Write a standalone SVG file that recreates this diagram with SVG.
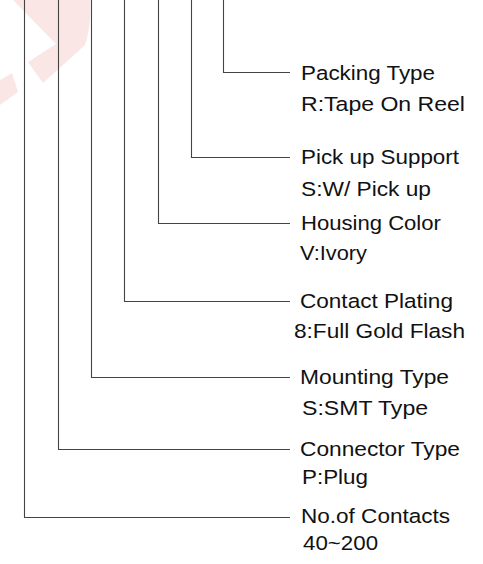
<svg xmlns="http://www.w3.org/2000/svg" width="483" height="564" viewBox="0 0 483 564">
<style>
.ln{fill:none;stroke:#444;stroke-width:1.1}
.t{font-family:"Liberation Sans",Arial,sans-serif;font-size:20.5px;fill:#111}
.wm{fill:#fbe6e6}
</style>
<rect width="483" height="564" fill="#fff"/>
<g id="watermark">
<path class="wm" d="M13,0 L90,0 C91,15 90,30 85,45 L43,83 L28,62 L56,44 Z"/>
<path class="wm" d="M0,80 L12,73 L18,92 L0,105 Z"/>
</g>
<g id="connectors">
<path class="ln" d="M223.5,0 V72.5 H290"/>
<path class="ln" d="M191.5,0 V157.5 H290"/>
<path class="ln" d="M158.5,0 V223.5 H290"/>
<path class="ln" d="M124.5,0 V301.5 H290"/>
<path class="ln" d="M91.5,0 V377.5 H290"/>
<path class="ln" d="M58.5,0 V449.5 H290"/>
<path class="ln" d="M24.5,0 V517.5 H290"/>
</g>
<g id="packing">
<text class="t" transform="translate(301,79.5) scale(1.06,1)" textLength="126.4" lengthAdjust="spacingAndGlyphs">Packing Type</text>
<text class="t" transform="translate(301,111) scale(1.06,1)" textLength="154.7" lengthAdjust="spacingAndGlyphs">R:Tape On Reel</text>
</g>
<g id="pickup">
<text class="t" transform="translate(301,164) scale(1.06,1)" textLength="149" lengthAdjust="spacingAndGlyphs">Pick up Support</text>
<text class="t" transform="translate(301,195.5) scale(1.06,1)" textLength="122.6" lengthAdjust="spacingAndGlyphs">S:W/ Pick up</text>
</g>
<g id="housing">
<text class="t" transform="translate(301,230) scale(1.06,1)" textLength="132" lengthAdjust="spacingAndGlyphs">Housing Color</text>
<text class="t" transform="translate(300,259.5) scale(1.06,1)" textLength="63.2" lengthAdjust="spacingAndGlyphs">V:Ivory</text>
</g>
<g id="plating">
<text class="t" transform="translate(300,308) scale(1.06,1)" textLength="144.3" lengthAdjust="spacingAndGlyphs">Contact Plating</text>
<text class="t" transform="translate(294,337.5) scale(1.06,1)" textLength="161.3" lengthAdjust="spacingAndGlyphs">8:Full Gold Flash</text>
</g>
<g id="mounting">
<text class="t" transform="translate(300,384) scale(1.06,1)" textLength="140.6" lengthAdjust="spacingAndGlyphs">Mounting Type</text>
<text class="t" transform="translate(302,414.5) scale(1.06,1)" textLength="118.9" lengthAdjust="spacingAndGlyphs">S:SMT Type</text>
</g>
<g id="connector">
<text class="t" transform="translate(300,456) scale(1.06,1)" textLength="150.9" lengthAdjust="spacingAndGlyphs">Connector Type</text>
<text class="t" transform="translate(302,483.5) scale(1.06,1)" textLength="62.3" lengthAdjust="spacingAndGlyphs">P:Plug</text>
</g>
<g id="contacts">
<text class="t" transform="translate(301,522.5) scale(1.06,1)" textLength="140.6" lengthAdjust="spacingAndGlyphs">No.of Contacts</text>
<text class="t" transform="translate(303,550) scale(1.06,1)" textLength="70.8" lengthAdjust="spacingAndGlyphs">40~200</text>
</g>
</svg>
